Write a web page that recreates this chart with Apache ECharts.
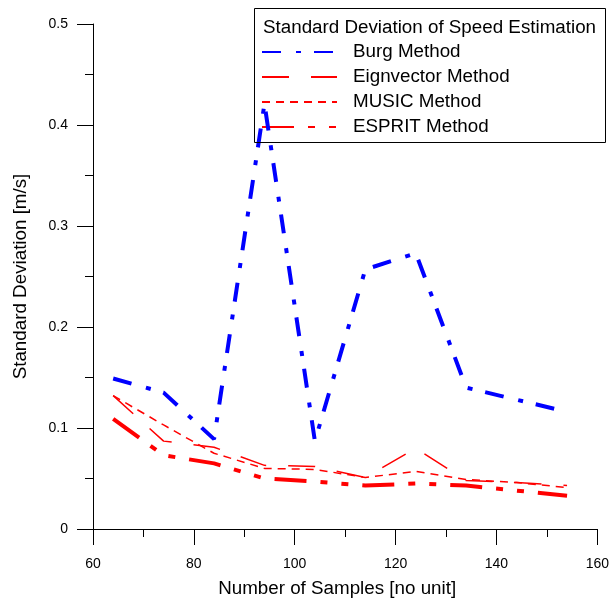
<!DOCTYPE html>
<html>
<head>
<meta charset="utf-8">
<script src="https://cdn.jsdelivr.net/npm/echarts@6/dist/echarts.min.js"></script>
<style>
html,body{margin:0;padding:0;background:#fff;}
#chart{width:612px;height:603px;}
</style>
</head>
<body>
<div id="chart"></div>
<script>
const samples = [64, 74, 84, 94, 104, 114, 124, 134, 144, 154];
const burg    = [0.149, 0.135, 0.089, 0.421, 0.087, 0.257, 0.273, 0.140, 0.128, 0.116];
const eign    = [0.132, 0.087, 0.081, 0.063, 0.062, 0.051, 0.080, 0.048, 0.046, 0.043];
const music   = [0.132, 0.103, 0.075, 0.060, 0.059, 0.051, 0.057, 0.049, 0.046, 0.041];
const esprit  = [0.109, 0.073, 0.065, 0.050, 0.047, 0.043, 0.045, 0.043, 0.038, 0.033];
const seriesNames = ['Burg Method', 'Eignvector Method', 'MUSIC Method', 'ESPRIT Method'];
const legendTitle = 'Standard Deviation of Speed Estimation';
const xTitle = 'Number of Samples [no unit]';
const yTitle = 'Standard Deviation [m/s]';

const FONT = '"Liberation Sans", Arial, sans-serif';
const pairs = ys => samples.map((x, i) => [x, ys[i]]);

const chart = echarts.init(document.getElementById('chart'), null, {renderer: 'canvas'});
const axisCommon = {
  axisLine: {show: true, onZero: false, lineStyle: {color: '#000', width: 1}},
  axisTick: {show: true, inside: false, length: 16, lineStyle: {color: '#000', width: 1}},
  minorTick: {show: true, splitNumber: 2, length: 8, lineStyle: {color: '#000', width: 1}},
  splitLine: {show: false},
  minorSplitLine: {show: false},
  axisLabel: {color: '#000', fontFamily: FONT, fontSize: 14},
  nameTextStyle: {color: '#000', fontFamily: FONT, fontSize: 18.8},
  nameLocation: 'middle'
};
function mk(name, data, color, width, dash) {
  return {
    name: name, type: 'line', data: pairs(data), symbol: 'none', showSymbol: false,
    smooth: false, animation: false, z: 5,
    lineStyle: {color: color, width: width, type: dash, cap: 'butt'},
    itemStyle: {color: color}
  };
}
chart.setOption({
  animation: false,
  grid: {left: 93, right: 12, top: 24, bottom: 71},
  xAxis: Object.assign({}, axisCommon, {
    type: 'value', min: 60, max: 160, interval: 20,
    name: xTitle, nameGap: 50,
    nameTextStyle: Object.assign({}, axisCommon.nameTextStyle, {padding: [0, 16, 0, 0]}),
    axisLabel: Object.assign({}, axisCommon.axisLabel, {margin: 28})
  }),
  yAxis: Object.assign({}, axisCommon, {
    type: 'value', min: 0, max: 0.5, interval: 0.1,
    name: yTitle, nameGap: 63,
    axisLabel: Object.assign({}, axisCommon.axisLabel, {margin: 25})
  }),
  legend: {
    show: true, orient: 'vertical', left: 261, top: 42, padding: 0,
    itemWidth: 75, itemHeight: 20, itemGap: 5,
    data: seriesNames,
    itemStyle: {opacity: 0},
    textStyle: {color: '#000', fontFamily: FONT, fontSize: 18.8, lineHeight: 20, padding: [0, 0, 0, 11]},
    selectedMode: false
  },
  graphic: [
    {type: 'rect', z: 10, shape: {x: 254.5, y: 8.5, width: 351, height: 134},
     style: {fill: 'none', stroke: '#000', lineWidth: 1}},
    {type: 'text', z: 10, x: 263, y: 28,
     style: {text: legendTitle, font: '18.8px ' + FONT, fill: '#000', verticalAlign: 'middle', align: 'left'}}
  ],
  series: [
    mk(seriesNames[0], burg, '#0000ff', 4, [19, 15, 5, 13]),
    mk(seriesNames[1], eign, '#ff0000', 1.5, [27, 22]),
    mk(seriesNames[2], music, '#ff0000', 1.5, [8, 6]),
    mk(seriesNames[3], esprit, '#ff0000', 4, [32, 14, 7, 14, 7, 14])
  ]
});
</script>
</body>
</html>
